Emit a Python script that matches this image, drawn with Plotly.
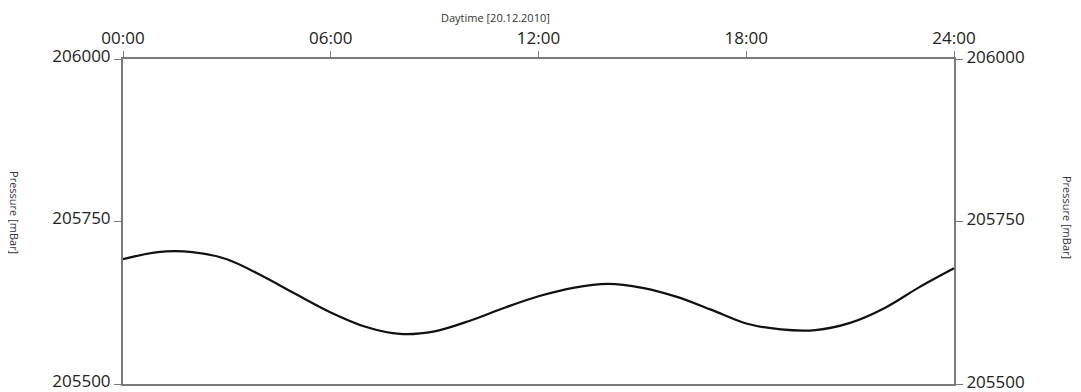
import plotly.graph_objects as go

hours = list(range(0, 25))
pressure = [205692, 205703, 205703, 205692, 205667, 205638, 205610, 205588, 205577,
            205581, 205597, 205617, 205635, 205648, 205654, 205648, 205634, 205614,
            205593, 205584, 205583, 205594, 205617, 205649, 205678]
x_tickvals = [0, 6, 12, 18, 24]
x_ticktext = ["00:00", "06:00", "12:00", "18:00", "24:00"]
y_tickvals = [205500, 205750, 206000]
y_ticktext = ["205500", "205750", "206000"]

FONT = "Open Sans"
AXC = "#7a7a7a"
TF = dict(size=17, family=FONT, color="#222222")

fig = go.Figure()
fig.add_trace(go.Scatter(x=hours, y=pressure, mode="lines",
                         line=dict(color="#111111", width=2.2, shape="spline", smoothing=0.9),
                         showlegend=False, hoverinfo="skip"))
fig.add_trace(go.Scatter(x=hours, y=pressure, mode="lines", yaxis="y2",
                         line=dict(color="rgba(0,0,0,0)", width=0),
                         showlegend=False, hoverinfo="skip"))

fig.update_layout(
    width=1073, height=392,
    margin=dict(l=115, r=127, t=51, b=16, autoexpand=False),
    paper_bgcolor="white", plot_bgcolor="white",
    font=dict(family=FONT, color="#222222", size=15),
    xaxis=dict(side="top", range=[0, 24], tickvals=x_tickvals, ticktext=x_ticktext,
               showgrid=False, zeroline=False, showline=True, linecolor=AXC,
               linewidth=2, mirror=True, ticks="outside", ticklen=6,
               tickcolor=AXC, tickwidth=1, tickfont=TF, automargin=False),
    yaxis=dict(range=[205500, 206000], tickvals=y_tickvals, ticktext=y_ticktext,
               showgrid=False, zeroline=False, showline=True, linecolor=AXC,
               linewidth=2, ticks="outside", ticklen=7, tickcolor=AXC,
               tickwidth=1, tickfont=TF, automargin=False, ticklabelshift=-3),
    yaxis2=dict(range=[205500, 206000], tickvals=y_tickvals, ticktext=y_ticktext,
                overlaying="y", side="right", showgrid=False, zeroline=False,
                showline=True, linecolor=AXC, linewidth=2, ticks="outside",
                ticklen=7, tickcolor=AXC, tickwidth=1, tickfont=TF, automargin=False,
                ticklabelshift=-2),
    annotations=[
        dict(text="Daytime [20.12.2010]", xref="paper", yref="paper",
             x=0.448, y=1, yanchor="middle", yshift=42, showarrow=False,
             font=dict(size=11, family=FONT, color="#333333")),
        dict(text="Pressure [mBar]", xref="paper", yref="paper",
             x=0, xanchor="center", xshift=-108, y=0.529, yanchor="middle",
             textangle=90, showarrow=False,
             font=dict(size=11, family=FONT, color="#333333")),
        dict(text="Pressure [mBar]", xref="paper", yref="paper",
             x=1, xanchor="center", xshift=113, y=0.514, yanchor="middle",
             textangle=90, showarrow=False,
             font=dict(size=11, family=FONT, color="#333333")),
    ],
)

fig.write_html("out.html")
